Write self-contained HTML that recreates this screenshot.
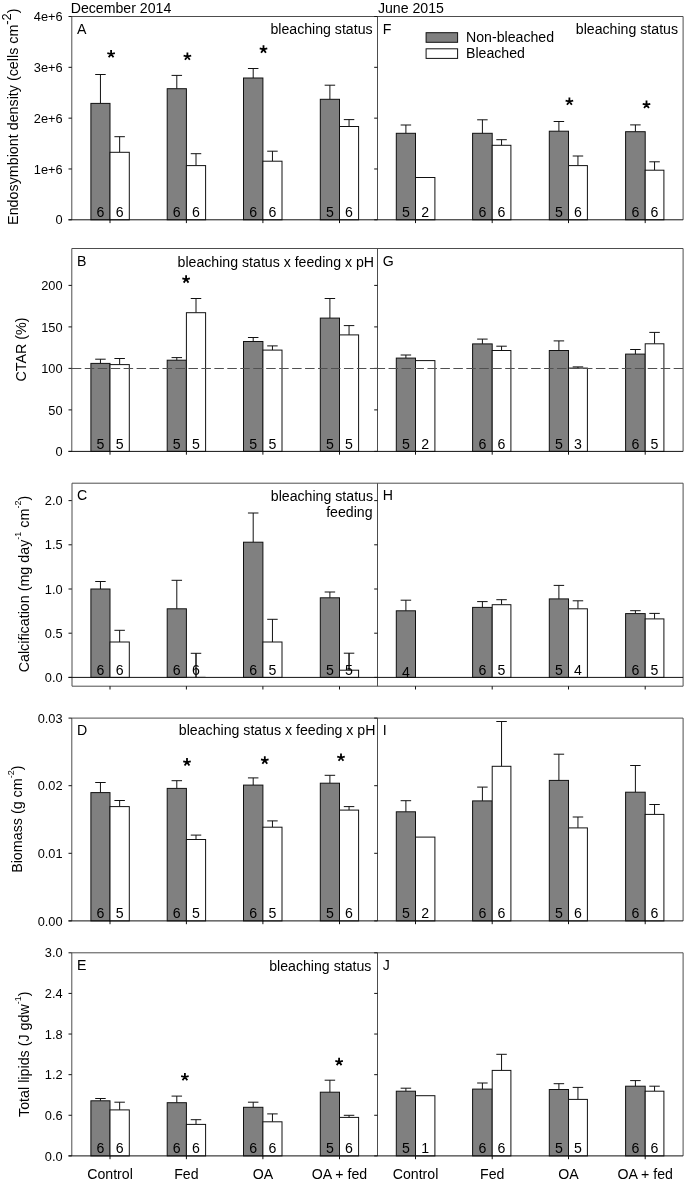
<!DOCTYPE html>
<html><head><meta charset="utf-8"><style>
html,body{margin:0;padding:0;background:#fff;}
body{width:685px;height:1181px;overflow:hidden;}
svg{display:block;will-change:transform;font-family:"Liberation Sans", sans-serif;}
text{fill:#000;}
</style></head><body>
<svg width="685" height="1181" viewBox="0 0 685 1181">
<rect x="0" y="0" width="685" height="1181" fill="#fff"/>
<line x1="71.8" y1="16.5" x2="683.1" y2="16.5" stroke="#4d4d4d" stroke-width="1"/>
<line x1="71.8" y1="16.5" x2="71.8" y2="219.8" stroke="#4d4d4d" stroke-width="1"/>
<line x1="377.5" y1="16.5" x2="377.5" y2="219.8" stroke="#4d4d4d" stroke-width="1"/>
<line x1="683.1" y1="16.5" x2="683.1" y2="219.8" stroke="#4d4d4d" stroke-width="1"/>
<line x1="71.8" y1="248.5" x2="683.1" y2="248.5" stroke="#4d4d4d" stroke-width="1"/>
<line x1="71.8" y1="248.5" x2="71.8" y2="451.4" stroke="#4d4d4d" stroke-width="1"/>
<line x1="377.5" y1="248.5" x2="377.5" y2="451.4" stroke="#4d4d4d" stroke-width="1"/>
<line x1="683.1" y1="248.5" x2="683.1" y2="451.4" stroke="#4d4d4d" stroke-width="1"/>
<line x1="72" y1="483.2" x2="683.1" y2="483.2" stroke="#4d4d4d" stroke-width="1"/>
<line x1="72" y1="483.2" x2="72" y2="686.2" stroke="#4d4d4d" stroke-width="1"/>
<line x1="377.5" y1="483.2" x2="377.5" y2="686.2" stroke="#4d4d4d" stroke-width="1"/>
<line x1="683.1" y1="483.2" x2="683.1" y2="686.2" stroke="#4d4d4d" stroke-width="1"/>
<line x1="72" y1="686.2" x2="683.1" y2="686.2" stroke="#4d4d4d" stroke-width="1"/>
<line x1="71.8" y1="718.1" x2="683.1" y2="718.1" stroke="#4d4d4d" stroke-width="1"/>
<line x1="71.8" y1="718.1" x2="71.8" y2="920.9" stroke="#4d4d4d" stroke-width="1"/>
<line x1="377.5" y1="718.1" x2="377.5" y2="920.9" stroke="#4d4d4d" stroke-width="1"/>
<line x1="683.1" y1="718.1" x2="683.1" y2="920.9" stroke="#4d4d4d" stroke-width="1"/>
<line x1="71.8" y1="952.8" x2="683.1" y2="952.8" stroke="#4d4d4d" stroke-width="1"/>
<line x1="71.8" y1="952.8" x2="71.8" y2="1155.9" stroke="#4d4d4d" stroke-width="1"/>
<line x1="377.5" y1="952.8" x2="377.5" y2="1155.9" stroke="#4d4d4d" stroke-width="1"/>
<line x1="683.1" y1="952.8" x2="683.1" y2="1155.9" stroke="#4d4d4d" stroke-width="1"/>
<line x1="68.5" y1="219.8" x2="71.8" y2="219.8" stroke="#111111" stroke-width="1"/>
<line x1="374.2" y1="219.8" x2="377.5" y2="219.8" stroke="#111111" stroke-width="1"/>
<text x="62.6" y="224.4" font-size="12.8" text-anchor="end">0</text>
<line x1="68.5" y1="168.98" x2="71.8" y2="168.98" stroke="#111111" stroke-width="1"/>
<line x1="374.2" y1="168.98" x2="377.5" y2="168.98" stroke="#111111" stroke-width="1"/>
<text x="62.6" y="173.58" font-size="12.8" text-anchor="end">1e+6</text>
<line x1="68.5" y1="118.15" x2="71.8" y2="118.15" stroke="#111111" stroke-width="1"/>
<line x1="374.2" y1="118.15" x2="377.5" y2="118.15" stroke="#111111" stroke-width="1"/>
<text x="62.6" y="122.75" font-size="12.8" text-anchor="end">2e+6</text>
<line x1="68.5" y1="67.32" x2="71.8" y2="67.32" stroke="#111111" stroke-width="1"/>
<line x1="374.2" y1="67.32" x2="377.5" y2="67.32" stroke="#111111" stroke-width="1"/>
<text x="62.6" y="71.92" font-size="12.8" text-anchor="end">3e+6</text>
<line x1="68.5" y1="16.5" x2="71.8" y2="16.5" stroke="#111111" stroke-width="1"/>
<line x1="374.2" y1="16.5" x2="377.5" y2="16.5" stroke="#111111" stroke-width="1"/>
<text x="62.6" y="21.1" font-size="12.8" text-anchor="end">4e+6</text>
<line x1="68.5" y1="451.4" x2="71.8" y2="451.4" stroke="#111111" stroke-width="1"/>
<line x1="374.2" y1="451.4" x2="377.5" y2="451.4" stroke="#111111" stroke-width="1"/>
<text x="62.6" y="456" font-size="12.8" text-anchor="end">0</text>
<line x1="68.5" y1="409.9" x2="71.8" y2="409.9" stroke="#111111" stroke-width="1"/>
<line x1="374.2" y1="409.9" x2="377.5" y2="409.9" stroke="#111111" stroke-width="1"/>
<text x="62.6" y="414.5" font-size="12.8" text-anchor="end">50</text>
<line x1="68.5" y1="368.4" x2="71.8" y2="368.4" stroke="#111111" stroke-width="1"/>
<line x1="374.2" y1="368.4" x2="377.5" y2="368.4" stroke="#111111" stroke-width="1"/>
<text x="62.6" y="373" font-size="12.8" text-anchor="end">100</text>
<line x1="68.5" y1="326.9" x2="71.8" y2="326.9" stroke="#111111" stroke-width="1"/>
<line x1="374.2" y1="326.9" x2="377.5" y2="326.9" stroke="#111111" stroke-width="1"/>
<text x="62.6" y="331.5" font-size="12.8" text-anchor="end">150</text>
<line x1="68.5" y1="285.4" x2="71.8" y2="285.4" stroke="#111111" stroke-width="1"/>
<line x1="374.2" y1="285.4" x2="377.5" y2="285.4" stroke="#111111" stroke-width="1"/>
<text x="62.6" y="290" font-size="12.8" text-anchor="end">200</text>
<line x1="68.5" y1="677.4" x2="71.8" y2="677.4" stroke="#111111" stroke-width="1"/>
<line x1="374.2" y1="677.4" x2="377.5" y2="677.4" stroke="#111111" stroke-width="1"/>
<text x="62.6" y="682" font-size="12.8" text-anchor="end">0.0</text>
<line x1="68.5" y1="633.2" x2="71.8" y2="633.2" stroke="#111111" stroke-width="1"/>
<line x1="374.2" y1="633.2" x2="377.5" y2="633.2" stroke="#111111" stroke-width="1"/>
<text x="62.6" y="637.8" font-size="12.8" text-anchor="end">0.5</text>
<line x1="68.5" y1="589" x2="71.8" y2="589" stroke="#111111" stroke-width="1"/>
<line x1="374.2" y1="589" x2="377.5" y2="589" stroke="#111111" stroke-width="1"/>
<text x="62.6" y="593.6" font-size="12.8" text-anchor="end">1.0</text>
<line x1="68.5" y1="544.8" x2="71.8" y2="544.8" stroke="#111111" stroke-width="1"/>
<line x1="374.2" y1="544.8" x2="377.5" y2="544.8" stroke="#111111" stroke-width="1"/>
<text x="62.6" y="549.4" font-size="12.8" text-anchor="end">1.5</text>
<line x1="68.5" y1="500.6" x2="71.8" y2="500.6" stroke="#111111" stroke-width="1"/>
<line x1="374.2" y1="500.6" x2="377.5" y2="500.6" stroke="#111111" stroke-width="1"/>
<text x="62.6" y="505.2" font-size="12.8" text-anchor="end">2.0</text>
<line x1="68.5" y1="920.9" x2="71.8" y2="920.9" stroke="#111111" stroke-width="1"/>
<line x1="374.2" y1="920.9" x2="377.5" y2="920.9" stroke="#111111" stroke-width="1"/>
<text x="62.6" y="925.5" font-size="12.8" text-anchor="end">0.00</text>
<line x1="68.5" y1="853.3" x2="71.8" y2="853.3" stroke="#111111" stroke-width="1"/>
<line x1="374.2" y1="853.3" x2="377.5" y2="853.3" stroke="#111111" stroke-width="1"/>
<text x="62.6" y="857.9" font-size="12.8" text-anchor="end">0.01</text>
<line x1="68.5" y1="785.7" x2="71.8" y2="785.7" stroke="#111111" stroke-width="1"/>
<line x1="374.2" y1="785.7" x2="377.5" y2="785.7" stroke="#111111" stroke-width="1"/>
<text x="62.6" y="790.3" font-size="12.8" text-anchor="end">0.02</text>
<line x1="68.5" y1="718.1" x2="71.8" y2="718.1" stroke="#111111" stroke-width="1"/>
<line x1="374.2" y1="718.1" x2="377.5" y2="718.1" stroke="#111111" stroke-width="1"/>
<text x="62.6" y="722.7" font-size="12.8" text-anchor="end">0.03</text>
<line x1="68.5" y1="1155.9" x2="71.8" y2="1155.9" stroke="#111111" stroke-width="1"/>
<line x1="374.2" y1="1155.9" x2="377.5" y2="1155.9" stroke="#111111" stroke-width="1"/>
<text x="62.6" y="1160.5" font-size="12.8" text-anchor="end">0.0</text>
<line x1="68.5" y1="1115.28" x2="71.8" y2="1115.28" stroke="#111111" stroke-width="1"/>
<line x1="374.2" y1="1115.28" x2="377.5" y2="1115.28" stroke="#111111" stroke-width="1"/>
<text x="62.6" y="1119.88" font-size="12.8" text-anchor="end">0.6</text>
<line x1="68.5" y1="1074.66" x2="71.8" y2="1074.66" stroke="#111111" stroke-width="1"/>
<line x1="374.2" y1="1074.66" x2="377.5" y2="1074.66" stroke="#111111" stroke-width="1"/>
<text x="62.6" y="1079.26" font-size="12.8" text-anchor="end">1.2</text>
<line x1="68.5" y1="1034.04" x2="71.8" y2="1034.04" stroke="#111111" stroke-width="1"/>
<line x1="374.2" y1="1034.04" x2="377.5" y2="1034.04" stroke="#111111" stroke-width="1"/>
<text x="62.6" y="1038.64" font-size="12.8" text-anchor="end">1.8</text>
<line x1="68.5" y1="993.42" x2="71.8" y2="993.42" stroke="#111111" stroke-width="1"/>
<line x1="374.2" y1="993.42" x2="377.5" y2="993.42" stroke="#111111" stroke-width="1"/>
<text x="62.6" y="998.02" font-size="12.8" text-anchor="end">2.4</text>
<line x1="68.5" y1="952.8" x2="71.8" y2="952.8" stroke="#111111" stroke-width="1"/>
<line x1="374.2" y1="952.8" x2="377.5" y2="952.8" stroke="#111111" stroke-width="1"/>
<text x="62.6" y="957.4" font-size="12.8" text-anchor="end">3.0</text>
<line x1="100.45" y1="74.5" x2="100.45" y2="103.4" stroke="#111111" stroke-width="1"/>
<line x1="95.2" y1="74.5" x2="105.7" y2="74.5" stroke="#111111" stroke-width="1"/>
<line x1="119.65" y1="136.7" x2="119.65" y2="152.3" stroke="#111111" stroke-width="1"/>
<line x1="114.4" y1="136.7" x2="124.9" y2="136.7" stroke="#111111" stroke-width="1"/>
<rect x="90.9" y="103.4" width="19.1" height="116.4" fill="#808080" stroke="#111111" stroke-width="1"/>
<rect x="110" y="152.3" width="19.3" height="67.5" fill="#ffffff" stroke="#111111" stroke-width="1"/>
<text x="100.45" y="217" font-size="14.15" text-anchor="middle">6</text>
<text x="119.65" y="217" font-size="14.15" text-anchor="middle">6</text>
<line x1="176.8" y1="75.4" x2="176.8" y2="88.7" stroke="#111111" stroke-width="1"/>
<line x1="171.55" y1="75.4" x2="182.05" y2="75.4" stroke="#111111" stroke-width="1"/>
<line x1="196" y1="153.7" x2="196" y2="165.6" stroke="#111111" stroke-width="1"/>
<line x1="190.75" y1="153.7" x2="201.25" y2="153.7" stroke="#111111" stroke-width="1"/>
<rect x="167.2" y="88.7" width="19.2" height="131.1" fill="#808080" stroke="#111111" stroke-width="1"/>
<rect x="186.4" y="165.6" width="19.2" height="54.2" fill="#ffffff" stroke="#111111" stroke-width="1"/>
<text x="176.8" y="217" font-size="14.15" text-anchor="middle">6</text>
<text x="196" y="217" font-size="14.15" text-anchor="middle">6</text>
<line x1="253.2" y1="68.5" x2="253.2" y2="78" stroke="#111111" stroke-width="1"/>
<line x1="247.95" y1="68.5" x2="258.45" y2="68.5" stroke="#111111" stroke-width="1"/>
<line x1="272.45" y1="151.2" x2="272.45" y2="161.2" stroke="#111111" stroke-width="1"/>
<line x1="267.2" y1="151.2" x2="277.7" y2="151.2" stroke="#111111" stroke-width="1"/>
<rect x="243.5" y="78" width="19.4" height="141.8" fill="#808080" stroke="#111111" stroke-width="1"/>
<rect x="262.9" y="161.2" width="19.1" height="58.6" fill="#ffffff" stroke="#111111" stroke-width="1"/>
<text x="253.2" y="217" font-size="14.15" text-anchor="middle">6</text>
<text x="272.45" y="217" font-size="14.15" text-anchor="middle">6</text>
<line x1="329.9" y1="85.2" x2="329.9" y2="99.3" stroke="#111111" stroke-width="1"/>
<line x1="324.65" y1="85.2" x2="335.15" y2="85.2" stroke="#111111" stroke-width="1"/>
<line x1="349.05" y1="119.6" x2="349.05" y2="126.5" stroke="#111111" stroke-width="1"/>
<line x1="343.8" y1="119.6" x2="354.3" y2="119.6" stroke="#111111" stroke-width="1"/>
<rect x="320.3" y="99.3" width="19.2" height="120.5" fill="#808080" stroke="#111111" stroke-width="1"/>
<rect x="339.5" y="126.5" width="19.1" height="93.3" fill="#ffffff" stroke="#111111" stroke-width="1"/>
<text x="329.9" y="217" font-size="14.15" text-anchor="middle">5</text>
<text x="349.05" y="217" font-size="14.15" text-anchor="middle">6</text>
<line x1="110" y1="219.8" x2="110" y2="223.1" stroke="#111111" stroke-width="1"/>
<line x1="186.4" y1="219.8" x2="186.4" y2="223.1" stroke="#111111" stroke-width="1"/>
<line x1="262.9" y1="219.8" x2="262.9" y2="223.1" stroke="#111111" stroke-width="1"/>
<line x1="339.5" y1="219.8" x2="339.5" y2="223.1" stroke="#111111" stroke-width="1"/>
<line x1="405.9" y1="125" x2="405.9" y2="133.3" stroke="#111111" stroke-width="1"/>
<line x1="400.65" y1="125" x2="411.15" y2="125" stroke="#111111" stroke-width="1"/>
<rect x="396.3" y="133.3" width="19.2" height="86.5" fill="#808080" stroke="#111111" stroke-width="1"/>
<rect x="415.5" y="177.5" width="19.4" height="42.3" fill="#ffffff" stroke="#111111" stroke-width="1"/>
<text x="405.9" y="217" font-size="14.15" text-anchor="middle">5</text>
<text x="425.2" y="217" font-size="14.15" text-anchor="middle">2</text>
<line x1="482.4" y1="119.8" x2="482.4" y2="133.3" stroke="#111111" stroke-width="1"/>
<line x1="477.15" y1="119.8" x2="487.65" y2="119.8" stroke="#111111" stroke-width="1"/>
<line x1="501.55" y1="139.7" x2="501.55" y2="145.3" stroke="#111111" stroke-width="1"/>
<line x1="496.3" y1="139.7" x2="506.8" y2="139.7" stroke="#111111" stroke-width="1"/>
<rect x="472.6" y="133.3" width="19.6" height="86.5" fill="#808080" stroke="#111111" stroke-width="1"/>
<rect x="492.2" y="145.3" width="18.7" height="74.5" fill="#ffffff" stroke="#111111" stroke-width="1"/>
<text x="482.4" y="217" font-size="14.15" text-anchor="middle">6</text>
<text x="501.55" y="217" font-size="14.15" text-anchor="middle">6</text>
<line x1="558.9" y1="121.5" x2="558.9" y2="131.2" stroke="#111111" stroke-width="1"/>
<line x1="553.65" y1="121.5" x2="564.15" y2="121.5" stroke="#111111" stroke-width="1"/>
<line x1="577.95" y1="156" x2="577.95" y2="165.6" stroke="#111111" stroke-width="1"/>
<line x1="572.7" y1="156" x2="583.2" y2="156" stroke="#111111" stroke-width="1"/>
<rect x="549.3" y="131.2" width="19.2" height="88.6" fill="#808080" stroke="#111111" stroke-width="1"/>
<rect x="568.5" y="165.6" width="18.9" height="54.2" fill="#ffffff" stroke="#111111" stroke-width="1"/>
<text x="558.9" y="217" font-size="14.15" text-anchor="middle">5</text>
<text x="577.95" y="217" font-size="14.15" text-anchor="middle">6</text>
<line x1="635.4" y1="124.9" x2="635.4" y2="131.7" stroke="#111111" stroke-width="1"/>
<line x1="630.15" y1="124.9" x2="640.65" y2="124.9" stroke="#111111" stroke-width="1"/>
<line x1="654.55" y1="161.8" x2="654.55" y2="170.2" stroke="#111111" stroke-width="1"/>
<line x1="649.3" y1="161.8" x2="659.8" y2="161.8" stroke="#111111" stroke-width="1"/>
<rect x="625.6" y="131.7" width="19.6" height="88.1" fill="#808080" stroke="#111111" stroke-width="1"/>
<rect x="645.2" y="170.2" width="18.7" height="49.6" fill="#ffffff" stroke="#111111" stroke-width="1"/>
<text x="635.4" y="217" font-size="14.15" text-anchor="middle">6</text>
<text x="654.55" y="217" font-size="14.15" text-anchor="middle">6</text>
<line x1="415.5" y1="219.8" x2="415.5" y2="223.1" stroke="#111111" stroke-width="1"/>
<line x1="492.2" y1="219.8" x2="492.2" y2="223.1" stroke="#111111" stroke-width="1"/>
<line x1="568.5" y1="219.8" x2="568.5" y2="223.1" stroke="#111111" stroke-width="1"/>
<line x1="645.2" y1="219.8" x2="645.2" y2="223.1" stroke="#111111" stroke-width="1"/>
<line x1="68.5" y1="219.8" x2="683.1" y2="219.8" stroke="#111111" stroke-width="1"/>
<line x1="100.45" y1="359.2" x2="100.45" y2="363.4" stroke="#111111" stroke-width="1"/>
<line x1="95.2" y1="359.2" x2="105.7" y2="359.2" stroke="#111111" stroke-width="1"/>
<line x1="119.65" y1="358.5" x2="119.65" y2="364.6" stroke="#111111" stroke-width="1"/>
<line x1="114.4" y1="358.5" x2="124.9" y2="358.5" stroke="#111111" stroke-width="1"/>
<rect x="90.9" y="363.4" width="19.1" height="88" fill="#808080" stroke="#111111" stroke-width="1"/>
<rect x="110" y="364.6" width="19.3" height="86.8" fill="#ffffff" stroke="#111111" stroke-width="1"/>
<text x="100.45" y="448.6" font-size="14.15" text-anchor="middle">5</text>
<text x="119.65" y="448.6" font-size="14.15" text-anchor="middle">5</text>
<line x1="176.8" y1="357.6" x2="176.8" y2="360.2" stroke="#111111" stroke-width="1"/>
<line x1="171.55" y1="357.6" x2="182.05" y2="357.6" stroke="#111111" stroke-width="1"/>
<line x1="196" y1="298.5" x2="196" y2="312.7" stroke="#111111" stroke-width="1"/>
<line x1="190.75" y1="298.5" x2="201.25" y2="298.5" stroke="#111111" stroke-width="1"/>
<rect x="167.2" y="360.2" width="19.2" height="91.2" fill="#808080" stroke="#111111" stroke-width="1"/>
<rect x="186.4" y="312.7" width="19.2" height="138.7" fill="#ffffff" stroke="#111111" stroke-width="1"/>
<text x="176.8" y="448.6" font-size="14.15" text-anchor="middle">5</text>
<text x="196" y="448.6" font-size="14.15" text-anchor="middle">5</text>
<line x1="253.2" y1="337.5" x2="253.2" y2="341.5" stroke="#111111" stroke-width="1"/>
<line x1="247.95" y1="337.5" x2="258.45" y2="337.5" stroke="#111111" stroke-width="1"/>
<line x1="272.45" y1="345.9" x2="272.45" y2="350.1" stroke="#111111" stroke-width="1"/>
<line x1="267.2" y1="345.9" x2="277.7" y2="345.9" stroke="#111111" stroke-width="1"/>
<rect x="243.5" y="341.5" width="19.4" height="109.9" fill="#808080" stroke="#111111" stroke-width="1"/>
<rect x="262.9" y="350.1" width="19.1" height="101.3" fill="#ffffff" stroke="#111111" stroke-width="1"/>
<text x="253.2" y="448.6" font-size="14.15" text-anchor="middle">5</text>
<text x="272.45" y="448.6" font-size="14.15" text-anchor="middle">5</text>
<line x1="329.9" y1="298.5" x2="329.9" y2="318.1" stroke="#111111" stroke-width="1"/>
<line x1="324.65" y1="298.5" x2="335.15" y2="298.5" stroke="#111111" stroke-width="1"/>
<line x1="349.05" y1="325.6" x2="349.05" y2="334.9" stroke="#111111" stroke-width="1"/>
<line x1="343.8" y1="325.6" x2="354.3" y2="325.6" stroke="#111111" stroke-width="1"/>
<rect x="320.3" y="318.1" width="19.2" height="133.3" fill="#808080" stroke="#111111" stroke-width="1"/>
<rect x="339.5" y="334.9" width="19.1" height="116.5" fill="#ffffff" stroke="#111111" stroke-width="1"/>
<text x="329.9" y="448.6" font-size="14.15" text-anchor="middle">5</text>
<text x="349.05" y="448.6" font-size="14.15" text-anchor="middle">5</text>
<line x1="110" y1="451.4" x2="110" y2="454.7" stroke="#111111" stroke-width="1"/>
<line x1="186.4" y1="451.4" x2="186.4" y2="454.7" stroke="#111111" stroke-width="1"/>
<line x1="262.9" y1="451.4" x2="262.9" y2="454.7" stroke="#111111" stroke-width="1"/>
<line x1="339.5" y1="451.4" x2="339.5" y2="454.7" stroke="#111111" stroke-width="1"/>
<line x1="405.9" y1="355" x2="405.9" y2="358.1" stroke="#111111" stroke-width="1"/>
<line x1="400.65" y1="355" x2="411.15" y2="355" stroke="#111111" stroke-width="1"/>
<rect x="396.3" y="358.1" width="19.2" height="93.3" fill="#808080" stroke="#111111" stroke-width="1"/>
<rect x="415.5" y="360.6" width="19.4" height="90.8" fill="#ffffff" stroke="#111111" stroke-width="1"/>
<text x="405.9" y="448.6" font-size="14.15" text-anchor="middle">5</text>
<text x="425.2" y="448.6" font-size="14.15" text-anchor="middle">2</text>
<line x1="482.4" y1="339.1" x2="482.4" y2="343.9" stroke="#111111" stroke-width="1"/>
<line x1="477.15" y1="339.1" x2="487.65" y2="339.1" stroke="#111111" stroke-width="1"/>
<line x1="501.55" y1="346.2" x2="501.55" y2="350.5" stroke="#111111" stroke-width="1"/>
<line x1="496.3" y1="346.2" x2="506.8" y2="346.2" stroke="#111111" stroke-width="1"/>
<rect x="472.6" y="343.9" width="19.6" height="107.5" fill="#808080" stroke="#111111" stroke-width="1"/>
<rect x="492.2" y="350.5" width="18.7" height="100.9" fill="#ffffff" stroke="#111111" stroke-width="1"/>
<text x="482.4" y="448.6" font-size="14.15" text-anchor="middle">6</text>
<text x="501.55" y="448.6" font-size="14.15" text-anchor="middle">6</text>
<line x1="558.9" y1="340.9" x2="558.9" y2="350.5" stroke="#111111" stroke-width="1"/>
<line x1="553.65" y1="340.9" x2="564.15" y2="340.9" stroke="#111111" stroke-width="1"/>
<line x1="577.95" y1="366.9" x2="577.95" y2="368.1" stroke="#111111" stroke-width="1"/>
<line x1="572.7" y1="366.9" x2="583.2" y2="366.9" stroke="#111111" stroke-width="1"/>
<rect x="549.3" y="350.5" width="19.2" height="100.9" fill="#808080" stroke="#111111" stroke-width="1"/>
<rect x="568.5" y="368.1" width="18.9" height="83.3" fill="#ffffff" stroke="#111111" stroke-width="1"/>
<text x="558.9" y="448.6" font-size="14.15" text-anchor="middle">5</text>
<text x="577.95" y="448.6" font-size="14.15" text-anchor="middle">3</text>
<line x1="635.4" y1="349.5" x2="635.4" y2="354.1" stroke="#111111" stroke-width="1"/>
<line x1="630.15" y1="349.5" x2="640.65" y2="349.5" stroke="#111111" stroke-width="1"/>
<line x1="654.55" y1="332.4" x2="654.55" y2="343.8" stroke="#111111" stroke-width="1"/>
<line x1="649.3" y1="332.4" x2="659.8" y2="332.4" stroke="#111111" stroke-width="1"/>
<rect x="625.6" y="354.1" width="19.6" height="97.3" fill="#808080" stroke="#111111" stroke-width="1"/>
<rect x="645.2" y="343.8" width="18.7" height="107.6" fill="#ffffff" stroke="#111111" stroke-width="1"/>
<text x="635.4" y="448.6" font-size="14.15" text-anchor="middle">6</text>
<text x="654.55" y="448.6" font-size="14.15" text-anchor="middle">5</text>
<line x1="415.5" y1="451.4" x2="415.5" y2="454.7" stroke="#111111" stroke-width="1"/>
<line x1="492.2" y1="451.4" x2="492.2" y2="454.7" stroke="#111111" stroke-width="1"/>
<line x1="568.5" y1="451.4" x2="568.5" y2="454.7" stroke="#111111" stroke-width="1"/>
<line x1="645.2" y1="451.4" x2="645.2" y2="454.7" stroke="#111111" stroke-width="1"/>
<line x1="68.5" y1="451.4" x2="683.1" y2="451.4" stroke="#111111" stroke-width="1"/>
<line x1="100.45" y1="581.5" x2="100.45" y2="589" stroke="#111111" stroke-width="1"/>
<line x1="95.2" y1="581.5" x2="105.7" y2="581.5" stroke="#111111" stroke-width="1"/>
<line x1="119.65" y1="630.3" x2="119.65" y2="642" stroke="#111111" stroke-width="1"/>
<line x1="114.4" y1="630.3" x2="124.9" y2="630.3" stroke="#111111" stroke-width="1"/>
<rect x="90.9" y="589" width="19.1" height="88.4" fill="#808080" stroke="#111111" stroke-width="1"/>
<rect x="110" y="642" width="19.3" height="35.4" fill="#ffffff" stroke="#111111" stroke-width="1"/>
<text x="100.45" y="674.6" font-size="14.15" text-anchor="middle">6</text>
<text x="119.65" y="674.6" font-size="14.15" text-anchor="middle">6</text>
<line x1="176.8" y1="580.3" x2="176.8" y2="608.8" stroke="#111111" stroke-width="1"/>
<line x1="171.55" y1="580.3" x2="182.05" y2="580.3" stroke="#111111" stroke-width="1"/>
<line x1="186.4" y1="676.4" x2="205.6" y2="676.4" stroke="#c8c8c8" stroke-width="0.8"/>
<line x1="196" y1="653.3" x2="196" y2="677.4" stroke="#111111" stroke-width="1"/>
<line x1="190.75" y1="653.3" x2="201.25" y2="653.3" stroke="#111111" stroke-width="1"/>
<rect x="167.2" y="608.8" width="19.2" height="68.6" fill="#808080" stroke="#111111" stroke-width="1"/>
<text x="176.8" y="674.6" font-size="14.15" text-anchor="middle">6</text>
<text x="196" y="674.6" font-size="14.15" text-anchor="middle">6</text>
<line x1="253.2" y1="513" x2="253.2" y2="542.2" stroke="#111111" stroke-width="1"/>
<line x1="247.95" y1="513" x2="258.45" y2="513" stroke="#111111" stroke-width="1"/>
<line x1="272.45" y1="619.3" x2="272.45" y2="642" stroke="#111111" stroke-width="1"/>
<line x1="267.2" y1="619.3" x2="277.7" y2="619.3" stroke="#111111" stroke-width="1"/>
<rect x="243.5" y="542.2" width="19.4" height="135.2" fill="#808080" stroke="#111111" stroke-width="1"/>
<rect x="262.9" y="642" width="19.1" height="35.4" fill="#ffffff" stroke="#111111" stroke-width="1"/>
<text x="253.2" y="674.6" font-size="14.15" text-anchor="middle">6</text>
<text x="272.45" y="674.6" font-size="14.15" text-anchor="middle">5</text>
<line x1="329.9" y1="592" x2="329.9" y2="597.8" stroke="#111111" stroke-width="1"/>
<line x1="324.65" y1="592" x2="335.15" y2="592" stroke="#111111" stroke-width="1"/>
<line x1="349.05" y1="653.2" x2="349.05" y2="670.2" stroke="#111111" stroke-width="1"/>
<line x1="343.8" y1="653.2" x2="354.3" y2="653.2" stroke="#111111" stroke-width="1"/>
<rect x="320.3" y="597.8" width="19.2" height="79.6" fill="#808080" stroke="#111111" stroke-width="1"/>
<rect x="339.5" y="670.2" width="19.1" height="7.2" fill="#ffffff" stroke="#111111" stroke-width="1"/>
<text x="329.9" y="674.6" font-size="14.15" text-anchor="middle">5</text>
<text x="349.05" y="674.6" font-size="14.15" text-anchor="middle">5</text>
<line x1="110" y1="686.2" x2="110" y2="689.5" stroke="#111111" stroke-width="1"/>
<line x1="186.4" y1="686.2" x2="186.4" y2="689.5" stroke="#111111" stroke-width="1"/>
<line x1="262.9" y1="686.2" x2="262.9" y2="689.5" stroke="#111111" stroke-width="1"/>
<line x1="339.5" y1="686.2" x2="339.5" y2="689.5" stroke="#111111" stroke-width="1"/>
<line x1="405.9" y1="600.2" x2="405.9" y2="610.8" stroke="#111111" stroke-width="1"/>
<line x1="400.65" y1="600.2" x2="411.15" y2="600.2" stroke="#111111" stroke-width="1"/>
<rect x="396.3" y="610.8" width="19.2" height="66.6" fill="#808080" stroke="#111111" stroke-width="1"/>
<text x="405.9" y="677.1" font-size="14.15" text-anchor="middle">4</text>
<line x1="482.4" y1="601.6" x2="482.4" y2="607.4" stroke="#111111" stroke-width="1"/>
<line x1="477.15" y1="601.6" x2="487.65" y2="601.6" stroke="#111111" stroke-width="1"/>
<line x1="501.55" y1="599.7" x2="501.55" y2="604.7" stroke="#111111" stroke-width="1"/>
<line x1="496.3" y1="599.7" x2="506.8" y2="599.7" stroke="#111111" stroke-width="1"/>
<rect x="472.6" y="607.4" width="19.6" height="70" fill="#808080" stroke="#111111" stroke-width="1"/>
<rect x="492.2" y="604.7" width="18.7" height="72.7" fill="#ffffff" stroke="#111111" stroke-width="1"/>
<text x="482.4" y="674.6" font-size="14.15" text-anchor="middle">6</text>
<text x="501.55" y="674.6" font-size="14.15" text-anchor="middle">5</text>
<line x1="558.9" y1="585.4" x2="558.9" y2="598.9" stroke="#111111" stroke-width="1"/>
<line x1="553.65" y1="585.4" x2="564.15" y2="585.4" stroke="#111111" stroke-width="1"/>
<line x1="577.95" y1="600.8" x2="577.95" y2="608.8" stroke="#111111" stroke-width="1"/>
<line x1="572.7" y1="600.8" x2="583.2" y2="600.8" stroke="#111111" stroke-width="1"/>
<rect x="549.3" y="598.9" width="19.2" height="78.5" fill="#808080" stroke="#111111" stroke-width="1"/>
<rect x="568.5" y="608.8" width="18.9" height="68.6" fill="#ffffff" stroke="#111111" stroke-width="1"/>
<text x="558.9" y="674.6" font-size="14.15" text-anchor="middle">5</text>
<text x="577.95" y="674.6" font-size="14.15" text-anchor="middle">4</text>
<line x1="635.4" y1="610.7" x2="635.4" y2="613.6" stroke="#111111" stroke-width="1"/>
<line x1="630.15" y1="610.7" x2="640.65" y2="610.7" stroke="#111111" stroke-width="1"/>
<line x1="654.55" y1="613.4" x2="654.55" y2="618.9" stroke="#111111" stroke-width="1"/>
<line x1="649.3" y1="613.4" x2="659.8" y2="613.4" stroke="#111111" stroke-width="1"/>
<rect x="625.6" y="613.6" width="19.6" height="63.8" fill="#808080" stroke="#111111" stroke-width="1"/>
<rect x="645.2" y="618.9" width="18.7" height="58.5" fill="#ffffff" stroke="#111111" stroke-width="1"/>
<text x="635.4" y="674.6" font-size="14.15" text-anchor="middle">6</text>
<text x="654.55" y="674.6" font-size="14.15" text-anchor="middle">5</text>
<line x1="415.5" y1="686.2" x2="415.5" y2="689.5" stroke="#111111" stroke-width="1"/>
<line x1="492.2" y1="686.2" x2="492.2" y2="689.5" stroke="#111111" stroke-width="1"/>
<line x1="568.5" y1="686.2" x2="568.5" y2="689.5" stroke="#111111" stroke-width="1"/>
<line x1="645.2" y1="686.2" x2="645.2" y2="689.5" stroke="#111111" stroke-width="1"/>
<line x1="68.5" y1="677.4" x2="683.1" y2="677.4" stroke="#111111" stroke-width="1"/>
<line x1="100.45" y1="782.5" x2="100.45" y2="792.6" stroke="#111111" stroke-width="1"/>
<line x1="95.2" y1="782.5" x2="105.7" y2="782.5" stroke="#111111" stroke-width="1"/>
<line x1="119.65" y1="800.5" x2="119.65" y2="806.6" stroke="#111111" stroke-width="1"/>
<line x1="114.4" y1="800.5" x2="124.9" y2="800.5" stroke="#111111" stroke-width="1"/>
<rect x="90.9" y="792.6" width="19.1" height="128.3" fill="#808080" stroke="#111111" stroke-width="1"/>
<rect x="110" y="806.6" width="19.3" height="114.3" fill="#ffffff" stroke="#111111" stroke-width="1"/>
<text x="100.45" y="918.1" font-size="14.15" text-anchor="middle">6</text>
<text x="119.65" y="918.1" font-size="14.15" text-anchor="middle">5</text>
<line x1="176.8" y1="780.7" x2="176.8" y2="788.4" stroke="#111111" stroke-width="1"/>
<line x1="171.55" y1="780.7" x2="182.05" y2="780.7" stroke="#111111" stroke-width="1"/>
<line x1="196" y1="835.1" x2="196" y2="839.5" stroke="#111111" stroke-width="1"/>
<line x1="190.75" y1="835.1" x2="201.25" y2="835.1" stroke="#111111" stroke-width="1"/>
<rect x="167.2" y="788.4" width="19.2" height="132.5" fill="#808080" stroke="#111111" stroke-width="1"/>
<rect x="186.4" y="839.5" width="19.2" height="81.4" fill="#ffffff" stroke="#111111" stroke-width="1"/>
<text x="176.8" y="918.1" font-size="14.15" text-anchor="middle">6</text>
<text x="196" y="918.1" font-size="14.15" text-anchor="middle">5</text>
<line x1="253.2" y1="777.9" x2="253.2" y2="785.1" stroke="#111111" stroke-width="1"/>
<line x1="247.95" y1="777.9" x2="258.45" y2="777.9" stroke="#111111" stroke-width="1"/>
<line x1="272.45" y1="820.9" x2="272.45" y2="827.2" stroke="#111111" stroke-width="1"/>
<line x1="267.2" y1="820.9" x2="277.7" y2="820.9" stroke="#111111" stroke-width="1"/>
<rect x="243.5" y="785.1" width="19.4" height="135.8" fill="#808080" stroke="#111111" stroke-width="1"/>
<rect x="262.9" y="827.2" width="19.1" height="93.7" fill="#ffffff" stroke="#111111" stroke-width="1"/>
<text x="253.2" y="918.1" font-size="14.15" text-anchor="middle">6</text>
<text x="272.45" y="918.1" font-size="14.15" text-anchor="middle">5</text>
<line x1="329.9" y1="775.3" x2="329.9" y2="783.2" stroke="#111111" stroke-width="1"/>
<line x1="324.65" y1="775.3" x2="335.15" y2="775.3" stroke="#111111" stroke-width="1"/>
<line x1="349.05" y1="806.6" x2="349.05" y2="810.1" stroke="#111111" stroke-width="1"/>
<line x1="343.8" y1="806.6" x2="354.3" y2="806.6" stroke="#111111" stroke-width="1"/>
<rect x="320.3" y="783.2" width="19.2" height="137.7" fill="#808080" stroke="#111111" stroke-width="1"/>
<rect x="339.5" y="810.1" width="19.1" height="110.8" fill="#ffffff" stroke="#111111" stroke-width="1"/>
<text x="329.9" y="918.1" font-size="14.15" text-anchor="middle">5</text>
<text x="349.05" y="918.1" font-size="14.15" text-anchor="middle">6</text>
<line x1="110" y1="920.9" x2="110" y2="924.2" stroke="#111111" stroke-width="1"/>
<line x1="186.4" y1="920.9" x2="186.4" y2="924.2" stroke="#111111" stroke-width="1"/>
<line x1="262.9" y1="920.9" x2="262.9" y2="924.2" stroke="#111111" stroke-width="1"/>
<line x1="339.5" y1="920.9" x2="339.5" y2="924.2" stroke="#111111" stroke-width="1"/>
<line x1="405.9" y1="800.7" x2="405.9" y2="811.8" stroke="#111111" stroke-width="1"/>
<line x1="400.65" y1="800.7" x2="411.15" y2="800.7" stroke="#111111" stroke-width="1"/>
<rect x="396.3" y="811.8" width="19.2" height="109.1" fill="#808080" stroke="#111111" stroke-width="1"/>
<rect x="415.5" y="837.1" width="19.4" height="83.8" fill="#ffffff" stroke="#111111" stroke-width="1"/>
<text x="405.9" y="918.1" font-size="14.15" text-anchor="middle">5</text>
<text x="425.2" y="918.1" font-size="14.15" text-anchor="middle">2</text>
<line x1="482.4" y1="787.1" x2="482.4" y2="800.9" stroke="#111111" stroke-width="1"/>
<line x1="477.15" y1="787.1" x2="487.65" y2="787.1" stroke="#111111" stroke-width="1"/>
<line x1="501.55" y1="721.5" x2="501.55" y2="766.3" stroke="#111111" stroke-width="1"/>
<line x1="496.3" y1="721.5" x2="506.8" y2="721.5" stroke="#111111" stroke-width="1"/>
<rect x="472.6" y="800.9" width="19.6" height="120" fill="#808080" stroke="#111111" stroke-width="1"/>
<rect x="492.2" y="766.3" width="18.7" height="154.6" fill="#ffffff" stroke="#111111" stroke-width="1"/>
<text x="482.4" y="918.1" font-size="14.15" text-anchor="middle">6</text>
<text x="501.55" y="918.1" font-size="14.15" text-anchor="middle">6</text>
<line x1="558.9" y1="754.2" x2="558.9" y2="780.4" stroke="#111111" stroke-width="1"/>
<line x1="553.65" y1="754.2" x2="564.15" y2="754.2" stroke="#111111" stroke-width="1"/>
<line x1="577.95" y1="817" x2="577.95" y2="827.9" stroke="#111111" stroke-width="1"/>
<line x1="572.7" y1="817" x2="583.2" y2="817" stroke="#111111" stroke-width="1"/>
<rect x="549.3" y="780.4" width="19.2" height="140.5" fill="#808080" stroke="#111111" stroke-width="1"/>
<rect x="568.5" y="827.9" width="18.9" height="93" fill="#ffffff" stroke="#111111" stroke-width="1"/>
<text x="558.9" y="918.1" font-size="14.15" text-anchor="middle">5</text>
<text x="577.95" y="918.1" font-size="14.15" text-anchor="middle">6</text>
<line x1="635.4" y1="765.5" x2="635.4" y2="792.2" stroke="#111111" stroke-width="1"/>
<line x1="630.15" y1="765.5" x2="640.65" y2="765.5" stroke="#111111" stroke-width="1"/>
<line x1="654.55" y1="804.5" x2="654.55" y2="814.4" stroke="#111111" stroke-width="1"/>
<line x1="649.3" y1="804.5" x2="659.8" y2="804.5" stroke="#111111" stroke-width="1"/>
<rect x="625.6" y="792.2" width="19.6" height="128.7" fill="#808080" stroke="#111111" stroke-width="1"/>
<rect x="645.2" y="814.4" width="18.7" height="106.5" fill="#ffffff" stroke="#111111" stroke-width="1"/>
<text x="635.4" y="918.1" font-size="14.15" text-anchor="middle">6</text>
<text x="654.55" y="918.1" font-size="14.15" text-anchor="middle">6</text>
<line x1="415.5" y1="920.9" x2="415.5" y2="924.2" stroke="#111111" stroke-width="1"/>
<line x1="492.2" y1="920.9" x2="492.2" y2="924.2" stroke="#111111" stroke-width="1"/>
<line x1="568.5" y1="920.9" x2="568.5" y2="924.2" stroke="#111111" stroke-width="1"/>
<line x1="645.2" y1="920.9" x2="645.2" y2="924.2" stroke="#111111" stroke-width="1"/>
<line x1="68.5" y1="920.9" x2="683.1" y2="920.9" stroke="#111111" stroke-width="1"/>
<line x1="100.45" y1="1098.5" x2="100.45" y2="1100.8" stroke="#111111" stroke-width="1"/>
<line x1="95.2" y1="1098.5" x2="105.7" y2="1098.5" stroke="#111111" stroke-width="1"/>
<line x1="119.65" y1="1102.2" x2="119.65" y2="1109.9" stroke="#111111" stroke-width="1"/>
<line x1="114.4" y1="1102.2" x2="124.9" y2="1102.2" stroke="#111111" stroke-width="1"/>
<rect x="90.9" y="1100.8" width="19.1" height="55.1" fill="#808080" stroke="#111111" stroke-width="1"/>
<rect x="110" y="1109.9" width="19.3" height="46" fill="#ffffff" stroke="#111111" stroke-width="1"/>
<text x="100.45" y="1153.1" font-size="14.15" text-anchor="middle">6</text>
<text x="119.65" y="1153.1" font-size="14.15" text-anchor="middle">6</text>
<line x1="176.8" y1="1096.1" x2="176.8" y2="1102.7" stroke="#111111" stroke-width="1"/>
<line x1="171.55" y1="1096.1" x2="182.05" y2="1096.1" stroke="#111111" stroke-width="1"/>
<line x1="196" y1="1119.7" x2="196" y2="1124.4" stroke="#111111" stroke-width="1"/>
<line x1="190.75" y1="1119.7" x2="201.25" y2="1119.7" stroke="#111111" stroke-width="1"/>
<rect x="167.2" y="1102.7" width="19.2" height="53.2" fill="#808080" stroke="#111111" stroke-width="1"/>
<rect x="186.4" y="1124.4" width="19.2" height="31.5" fill="#ffffff" stroke="#111111" stroke-width="1"/>
<text x="176.8" y="1153.1" font-size="14.15" text-anchor="middle">6</text>
<text x="196" y="1153.1" font-size="14.15" text-anchor="middle">6</text>
<line x1="253.2" y1="1102.2" x2="253.2" y2="1107.3" stroke="#111111" stroke-width="1"/>
<line x1="247.95" y1="1102.2" x2="258.45" y2="1102.2" stroke="#111111" stroke-width="1"/>
<line x1="272.45" y1="1113.9" x2="272.45" y2="1121.8" stroke="#111111" stroke-width="1"/>
<line x1="267.2" y1="1113.9" x2="277.7" y2="1113.9" stroke="#111111" stroke-width="1"/>
<rect x="243.5" y="1107.3" width="19.4" height="48.6" fill="#808080" stroke="#111111" stroke-width="1"/>
<rect x="262.9" y="1121.8" width="19.1" height="34.1" fill="#ffffff" stroke="#111111" stroke-width="1"/>
<text x="253.2" y="1153.1" font-size="14.15" text-anchor="middle">6</text>
<text x="272.45" y="1153.1" font-size="14.15" text-anchor="middle">6</text>
<line x1="329.9" y1="1080.2" x2="329.9" y2="1092.2" stroke="#111111" stroke-width="1"/>
<line x1="324.65" y1="1080.2" x2="335.15" y2="1080.2" stroke="#111111" stroke-width="1"/>
<line x1="349.05" y1="1115.3" x2="349.05" y2="1117.4" stroke="#111111" stroke-width="1"/>
<line x1="343.8" y1="1115.3" x2="354.3" y2="1115.3" stroke="#111111" stroke-width="1"/>
<rect x="320.3" y="1092.2" width="19.2" height="63.7" fill="#808080" stroke="#111111" stroke-width="1"/>
<rect x="339.5" y="1117.4" width="19.1" height="38.5" fill="#ffffff" stroke="#111111" stroke-width="1"/>
<text x="329.9" y="1153.1" font-size="14.15" text-anchor="middle">5</text>
<text x="349.05" y="1153.1" font-size="14.15" text-anchor="middle">6</text>
<line x1="110" y1="1155.9" x2="110" y2="1159.2" stroke="#111111" stroke-width="1"/>
<line x1="186.4" y1="1155.9" x2="186.4" y2="1159.2" stroke="#111111" stroke-width="1"/>
<line x1="262.9" y1="1155.9" x2="262.9" y2="1159.2" stroke="#111111" stroke-width="1"/>
<line x1="339.5" y1="1155.9" x2="339.5" y2="1159.2" stroke="#111111" stroke-width="1"/>
<line x1="405.9" y1="1088.2" x2="405.9" y2="1091.2" stroke="#111111" stroke-width="1"/>
<line x1="400.65" y1="1088.2" x2="411.15" y2="1088.2" stroke="#111111" stroke-width="1"/>
<rect x="396.3" y="1091.2" width="19.2" height="64.7" fill="#808080" stroke="#111111" stroke-width="1"/>
<rect x="415.5" y="1095.7" width="19.4" height="60.2" fill="#ffffff" stroke="#111111" stroke-width="1"/>
<text x="405.9" y="1153.1" font-size="14.15" text-anchor="middle">5</text>
<text x="425.2" y="1153.1" font-size="14.15" text-anchor="middle">1</text>
<line x1="482.4" y1="1083" x2="482.4" y2="1089.1" stroke="#111111" stroke-width="1"/>
<line x1="477.15" y1="1083" x2="487.65" y2="1083" stroke="#111111" stroke-width="1"/>
<line x1="501.55" y1="1054.3" x2="501.55" y2="1070.4" stroke="#111111" stroke-width="1"/>
<line x1="496.3" y1="1054.3" x2="506.8" y2="1054.3" stroke="#111111" stroke-width="1"/>
<rect x="472.6" y="1089.1" width="19.6" height="66.8" fill="#808080" stroke="#111111" stroke-width="1"/>
<rect x="492.2" y="1070.4" width="18.7" height="85.5" fill="#ffffff" stroke="#111111" stroke-width="1"/>
<text x="482.4" y="1153.1" font-size="14.15" text-anchor="middle">6</text>
<text x="501.55" y="1153.1" font-size="14.15" text-anchor="middle">6</text>
<line x1="558.9" y1="1083.7" x2="558.9" y2="1089.5" stroke="#111111" stroke-width="1"/>
<line x1="553.65" y1="1083.7" x2="564.15" y2="1083.7" stroke="#111111" stroke-width="1"/>
<line x1="577.95" y1="1087.4" x2="577.95" y2="1099.4" stroke="#111111" stroke-width="1"/>
<line x1="572.7" y1="1087.4" x2="583.2" y2="1087.4" stroke="#111111" stroke-width="1"/>
<rect x="549.3" y="1089.5" width="19.2" height="66.4" fill="#808080" stroke="#111111" stroke-width="1"/>
<rect x="568.5" y="1099.4" width="18.9" height="56.5" fill="#ffffff" stroke="#111111" stroke-width="1"/>
<text x="558.9" y="1153.1" font-size="14.15" text-anchor="middle">5</text>
<text x="577.95" y="1153.1" font-size="14.15" text-anchor="middle">5</text>
<line x1="635.4" y1="1080.6" x2="635.4" y2="1086.2" stroke="#111111" stroke-width="1"/>
<line x1="630.15" y1="1080.6" x2="640.65" y2="1080.6" stroke="#111111" stroke-width="1"/>
<line x1="654.55" y1="1086.2" x2="654.55" y2="1091.2" stroke="#111111" stroke-width="1"/>
<line x1="649.3" y1="1086.2" x2="659.8" y2="1086.2" stroke="#111111" stroke-width="1"/>
<rect x="625.6" y="1086.2" width="19.6" height="69.7" fill="#808080" stroke="#111111" stroke-width="1"/>
<rect x="645.2" y="1091.2" width="18.7" height="64.7" fill="#ffffff" stroke="#111111" stroke-width="1"/>
<text x="635.4" y="1153.1" font-size="14.15" text-anchor="middle">6</text>
<text x="654.55" y="1153.1" font-size="14.15" text-anchor="middle">6</text>
<line x1="415.5" y1="1155.9" x2="415.5" y2="1159.2" stroke="#111111" stroke-width="1"/>
<line x1="492.2" y1="1155.9" x2="492.2" y2="1159.2" stroke="#111111" stroke-width="1"/>
<line x1="568.5" y1="1155.9" x2="568.5" y2="1159.2" stroke="#111111" stroke-width="1"/>
<line x1="645.2" y1="1155.9" x2="645.2" y2="1159.2" stroke="#111111" stroke-width="1"/>
<line x1="68.5" y1="1155.9" x2="683.1" y2="1155.9" stroke="#111111" stroke-width="1"/>
<line x1="196" y1="653.3" x2="196" y2="677.3" stroke="#111111" stroke-width="1"/>
<line x1="349.05" y1="653.2" x2="349.05" y2="670.2" stroke="#111111" stroke-width="1"/>
<line x1="71.8" y1="368.5" x2="379.5" y2="368.5" stroke="#505050" stroke-width="1" stroke-dasharray="9.5 3.46"/>
<line x1="375.6" y1="368.5" x2="683.1" y2="368.5" stroke="#505050" stroke-width="1" stroke-dasharray="9.5 3.46"/>
<path d="M111.1 54L111.1 49.9M111.1 54L114.88 53.06M111.1 54L107.32 53.06M111.1 54L113.51 57.32M111.1 54L108.69 57.32" stroke="#000" stroke-width="1.8" stroke-linecap="butt" fill="none"/>
<path d="M187.4 56.5L187.4 52.4M187.4 56.5L191.18 55.56M187.4 56.5L183.62 55.56M187.4 56.5L189.81 59.82M187.4 56.5L184.99 59.82" stroke="#000" stroke-width="1.8" stroke-linecap="butt" fill="none"/>
<path d="M263.5 49.4L263.5 45.3M263.5 49.4L267.28 48.46M263.5 49.4L259.72 48.46M263.5 49.4L265.91 52.72M263.5 49.4L261.09 52.72" stroke="#000" stroke-width="1.8" stroke-linecap="butt" fill="none"/>
<path d="M569.4 101.5L569.4 97.4M569.4 101.5L573.18 100.56M569.4 101.5L565.62 100.56M569.4 101.5L571.81 104.82M569.4 101.5L566.99 104.82" stroke="#000" stroke-width="1.8" stroke-linecap="butt" fill="none"/>
<path d="M646.5 104.7L646.5 100.6M646.5 104.7L650.28 103.76M646.5 104.7L642.72 103.76M646.5 104.7L648.91 108.02M646.5 104.7L644.09 108.02" stroke="#000" stroke-width="1.8" stroke-linecap="butt" fill="none"/>
<path d="M186.1 279.3L186.1 275.2M186.1 279.3L189.88 278.36M186.1 279.3L182.32 278.36M186.1 279.3L188.51 282.62M186.1 279.3L183.69 282.62" stroke="#000" stroke-width="1.8" stroke-linecap="butt" fill="none"/>
<path d="M187 762.2L187 758.1M187 762.2L190.78 761.26M187 762.2L183.22 761.26M187 762.2L189.41 765.52M187 762.2L184.59 765.52" stroke="#000" stroke-width="1.8" stroke-linecap="butt" fill="none"/>
<path d="M264.8 760.4L264.8 756.3M264.8 760.4L268.58 759.46M264.8 760.4L261.02 759.46M264.8 760.4L267.21 763.72M264.8 760.4L262.39 763.72" stroke="#000" stroke-width="1.8" stroke-linecap="butt" fill="none"/>
<path d="M341 757.5L341 753.4M341 757.5L344.78 756.56M341 757.5L337.22 756.56M341 757.5L343.41 760.82M341 757.5L338.59 760.82" stroke="#000" stroke-width="1.8" stroke-linecap="butt" fill="none"/>
<path d="M184.9 1077L184.9 1072.9M184.9 1077L188.68 1076.06M184.9 1077L181.12 1076.06M184.9 1077L187.31 1080.32M184.9 1077L182.49 1080.32" stroke="#000" stroke-width="1.8" stroke-linecap="butt" fill="none"/>
<path d="M339.1 1061.8L339.1 1057.7M339.1 1061.8L342.88 1060.86M339.1 1061.8L335.32 1060.86M339.1 1061.8L341.51 1065.12M339.1 1061.8L336.69 1065.12" stroke="#000" stroke-width="1.8" stroke-linecap="butt" fill="none"/>
<text x="372.6" y="33.5" font-size="14.15" text-anchor="end">bleaching status</text>
<text x="678" y="33.5" font-size="14.15" text-anchor="end">bleaching status</text>
<text x="374.1" y="266.6" font-size="14.15" text-anchor="end">bleaching status x feeding x pH</text>
<text x="373" y="500.9" font-size="14.15" text-anchor="end">bleaching status</text>
<text x="372.6" y="516.5" font-size="14.15" text-anchor="end">feeding</text>
<text x="375.4" y="735.1" font-size="14.15" text-anchor="end">bleaching status x feeding x pH</text>
<text x="371.4" y="971.2" font-size="14.15" text-anchor="end">bleaching status</text>
<text x="77" y="33.7" font-size="14.15" text-anchor="start">A</text>
<text x="382.7" y="33.7" font-size="14.15" text-anchor="start">F</text>
<text x="77" y="265.7" font-size="14.15" text-anchor="start">B</text>
<text x="382.7" y="265.7" font-size="14.15" text-anchor="start">G</text>
<text x="77" y="500.4" font-size="14.15" text-anchor="start">C</text>
<text x="382.7" y="500.4" font-size="14.15" text-anchor="start">H</text>
<text x="77" y="735.3" font-size="14.15" text-anchor="start">D</text>
<text x="382.7" y="735.3" font-size="14.15" text-anchor="start">I</text>
<text x="77" y="970" font-size="14.15" text-anchor="start">E</text>
<text x="382.7" y="970" font-size="14.15" text-anchor="start">J</text>
<text x="70.7" y="12.6" font-size="14.15" text-anchor="start">December 2014</text>
<text x="377.9" y="12.6" font-size="14.15" text-anchor="start">June 2015</text>
<rect x="426.1" y="32.7" width="31.5" height="9.6" fill="#808080" stroke="#111111" stroke-width="1"/>
<rect x="426.1" y="48.8" width="31.5" height="9.6" fill="#ffffff" stroke="#111111" stroke-width="1"/>
<text x="466" y="42.4" font-size="14.15" text-anchor="start">Non-bleached</text>
<text x="466" y="58.4" font-size="14.15" text-anchor="start">Bleached</text>
<text x="110" y="1178.5" font-size="14.15" text-anchor="middle">Control</text>
<text x="186.4" y="1178.5" font-size="14.15" text-anchor="middle">Fed</text>
<text x="262.9" y="1178.5" font-size="14.15" text-anchor="middle">OA</text>
<text x="339.5" y="1178.5" font-size="14.15" text-anchor="middle">OA + fed</text>
<text x="415.5" y="1178.5" font-size="14.15" text-anchor="middle">Control</text>
<text x="492.2" y="1178.5" font-size="14.15" text-anchor="middle">Fed</text>
<text x="568.5" y="1178.5" font-size="14.15" text-anchor="middle">OA</text>
<text x="645.2" y="1178.5" font-size="14.15" text-anchor="middle">OA + fed</text>
<text transform="translate(18 116.7) rotate(-90)" x="0" y="0" font-size="14.3" text-anchor="middle"><tspan dy="0">Endosymbiont density (cells cm</tspan><tspan font-size="12.8" dy="-7">-2</tspan><tspan dy="7">)</tspan></text>
<text transform="translate(25.5 349.5) rotate(-90)" x="0" y="0" font-size="14.3" text-anchor="middle"><tspan dy="0">CTAR (%)</tspan></text>
<text transform="translate(28.6 584.1) rotate(-90)" x="0" y="0" font-size="14.3" text-anchor="middle"><tspan dy="0">Calcification (mg day</tspan><tspan font-size="9" dy="-7.8">-1</tspan><tspan dy="7.8"> cm</tspan><tspan font-size="9" dy="-7.8">-2</tspan><tspan dy="7.8">)</tspan></text>
<text transform="translate(21.6 819.2) rotate(-90)" x="0" y="0" font-size="14.3" text-anchor="middle"><tspan dy="0">Biomass (g cm</tspan><tspan font-size="9" dy="-7.8">-2</tspan><tspan dy="7.8">)</tspan></text>
<text transform="translate(28.8 1054.2) rotate(-90)" x="0" y="0" font-size="14.3" text-anchor="middle"><tspan dy="0">Total lipids (J gdw</tspan><tspan font-size="9" dy="-7.8">-1</tspan><tspan dy="7.8">)</tspan></text>
</svg>
</body></html>
